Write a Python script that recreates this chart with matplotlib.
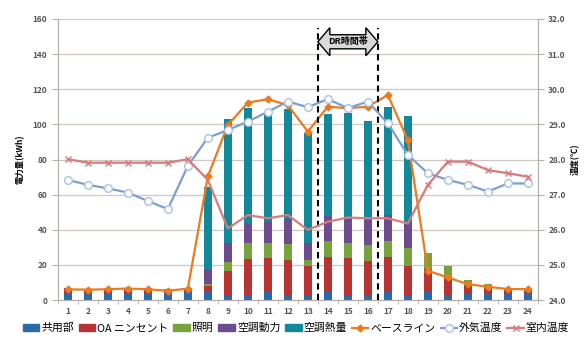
import numpy as np
import matplotlib
matplotlib.use("Agg")
import matplotlib.pyplot as plt
from matplotlib.patches import Polygon, Patch
from matplotlib.lines import Line2D
from matplotlib.ticker import MultipleLocator

plt.rcParams['font.family'] = ['Noto Sans CJK JP', 'DejaVu Sans']

hours = list(range(1, 25))

# 電力量の内訳 (kWh)
kyoyo = [4.0, 3.8, 4.0, 3.8, 4.0, 3.6, 4.6, 4.5, 2.8, 3.2, 4.5, 3.2,
         2.8, 4.7, 3.2, 2.8, 4.4, 2.5, 4.4, 3.0, 3.5, 3.5, 3.5, 3.5]
oa = [3.0, 2.8, 3.0, 3.0, 2.8, 2.8, 2.4, 3.5, 13.7, 20.0, 19.2, 19.6,
      16.7, 20.0, 20.5, 19.6, 19.9, 16.9, 13.6, 10.0, 5.0, 3.9, 2.5, 1.8]
shomei = [0, 0, 0, 0, 0, 0, 0, 1.0, 5.3, 9.1, 8.9, 9.1,
          3.3, 9.1, 8.6, 8.9, 9.5, 10.0, 8.6, 6.5, 2.9, 1.7, 0.7, 0.5]
kucho_doryoku = [0, 0, 0, 0, 0, 0, 0, 8.6, 10.8, 11.0, 11.6, 14.0,
                 9.8, 14.0, 15.2, 14.3, 14.6, 15.2, 0, 0, 0, 0, 0, 0]
kucho_netsu = [0, 0, 0, 0, 0, 0, 0, 46.9, 70.3, 65.9, 63.1, 62.7,
               62.3, 57.9, 58.8, 56.5, 61.7, 60.2, 0, 0, 0, 0, 0, 0]

# ベースライン (kWh)
baseline = [6.1, 6.0, 6.2, 6.6, 6.2, 5.3, 6.6, 70.4, 99.7, 112.4, 114.3, 111.0,
            95.9, 110.1, 109.2, 110.1, 116.7, 91.1, 16.7, 12.9, 9.1, 7.6, 6.3, 6.3]

# 温度 (℃)
gaiki = [27.42, 27.28, 27.18, 27.06, 26.82, 26.59, 27.82, 28.62, 28.84, 29.08, 29.36, 29.65,
         29.49, 29.72, 29.46, 29.65, 29.03, 28.13, 27.61, 27.42, 27.28, 27.09, 27.32, 27.32]
shitsunai = [28.01, 27.91, 27.91, 27.91, 27.91, 27.91, 28.01, 27.42, 26.04, 26.42, 26.33, 26.42,
             26.00, 26.23, 26.35, 26.33, 26.33, 26.18, 27.28, 27.94, 27.94, 27.70, 27.61, 27.51]

dr_start, dr_end = 13.5, 16.5

bar_names = ['共用部', 'OA ニンセント', '照明', '空調動力', '空調熱量']
bar_colors = ['#2b6aa6', '#b93333', '#78a33c', '#6c4b8f', '#11899b']
c_base = '#ee7a1e'
c_out = '#7c9ed2'
c_in = '#d97a7c'

fig = plt.figure(figsize=(5.84, 3.38), dpi=100)
ax = fig.add_axes([0.099, 0.112, 0.822, 0.832])
ax2 = ax.twinx()

x = np.array(hours)
bottom = np.zeros(len(hours))
for vals, col in zip([kyoyo, oa, shomei, kucho_doryoku, kucho_netsu], bar_colors):
    ax.bar(x, vals, width=0.42, bottom=bottom, color=col, zorder=2)
    bottom += np.array(vals)

ax.plot(x, baseline, color=c_base, lw=1.6, marker='D', ms=3.5, zorder=4)

ax2.plot(x, gaiki, color=c_out, lw=1.6, marker='o', ms=5.5,
         mfc='white', mec='#a9c2e4', mew=1.0, zorder=3)
ax2.plot(x, shitsunai, color=c_in, lw=1.6, marker='x', ms=5, mew=1.0,
         markevery=[0, 1, 2, 3, 4, 5, 6, 18, 19, 20, 21, 22, 23], zorder=3)

ax.set_xlim(0.5, 24.5)
ax.set_ylim(0, 160)
ax2.set_ylim(24, 32)
ax.yaxis.set_major_locator(MultipleLocator(20))
ax2.yaxis.set_major_locator(MultipleLocator(1))
ax2.set_yticklabels([f'{v:.1f}' for v in ax2.get_yticks()])
ax.set_xticks(hours)
ax.set_xticks(np.arange(0.5, 25, 1), minor=True)
ax.grid(axis='y', color='#cfc7c0', lw=0.9, zorder=0)
ax.set_axisbelow(True)

for a in (ax, ax2):
    a.spines['top'].set_visible(False)
    for s in ('left', 'right', 'bottom'):
        a.spines[s].set_color('#b5b0ab')
    a.tick_params(labelsize=6, colors='#b5b0ab', labelcolor='#555555', width=0.8)
ax.tick_params(axis='x', which='major', length=0, pad=5)
ax.tick_params(axis='x', which='minor', length=3, color='#b5b0ab')
ax.tick_params(axis='y', length=4)
ax2.tick_params(axis='y', length=4)
for lab in ax.get_xticklabels() + ax.get_yticklabels() + ax2.get_yticklabels():
    lab.set_fontweight('bold')

ax.set_ylabel('電力量(kWh)', fontsize=6, fontweight='bold', labelpad=6)
ax2.set_ylabel('温度(℃)', fontsize=6, fontweight='bold', labelpad=4, rotation=90)

# DR時間帯の区切り線と矢印
for xv in (dr_start, dr_end):
    ax.axvline(xv, ymax=155 / 160, color='black', lw=1.5, ls=(0, (3, 2)), zorder=5)

head = 0.6
yc, hh, bh = 147, 8, 4
arrow = Polygon([(dr_start, yc), (dr_start + head, yc + hh), (dr_start + head, yc + bh),
                 (dr_end - head, yc + bh), (dr_end - head, yc + hh), (dr_end, yc),
                 (dr_end - head, yc - hh), (dr_end - head, yc - bh),
                 (dr_start + head, yc - bh), (dr_start + head, yc - hh)],
                closed=True, facecolor='#d9d9d9', edgecolor='black', lw=1.0, zorder=6)
ax.add_patch(arrow)
ax.text((dr_start + dr_end) / 2, yc, 'DR時間帯', ha='center', va='center',
        fontsize=6.5, fontweight='bold', zorder=7)

handles = [Patch(color=c) for c in bar_colors]
handles += [Line2D([], [], color=c_base, lw=1.6, marker='D', ms=3.5),
            Line2D([], [], color=c_out, lw=1.6, marker='o', ms=5.5, mfc='white', mec='#a9c2e4'),
            Line2D([], [], color=c_in, lw=1.6, marker='x', ms=5)]
labels = bar_names + ['ベースライン', '外気温度', '室内温度']
fig.legend(handles, labels, loc='lower center', bbox_to_anchor=(0.507, -0.015), ncol=8,
           fontsize=7.8, frameon=False, handlelength=1.5, handletextpad=0.2,
           columnspacing=0.45, handleheight=0.6)

fig.savefig('out.png', dpi=100)
